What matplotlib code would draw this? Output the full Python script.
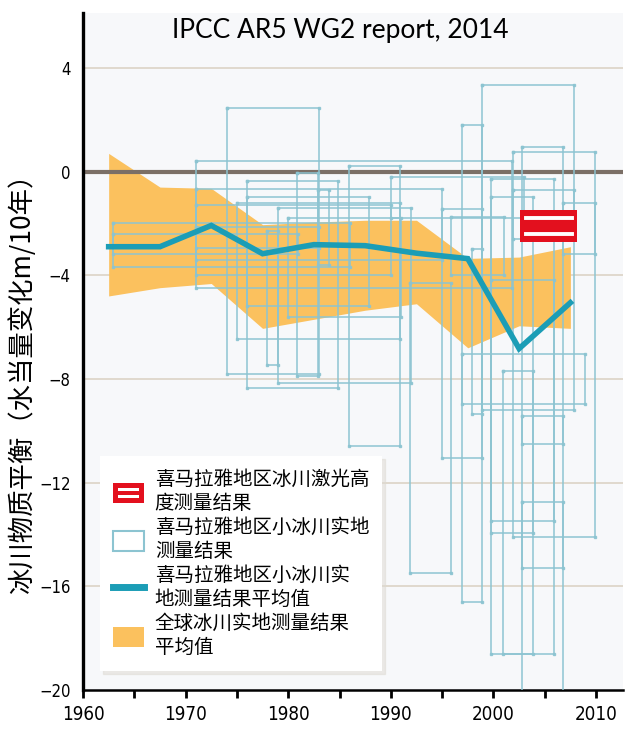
import matplotlib
matplotlib.use("Agg")
import matplotlib.pyplot as plt
from matplotlib.patches import Rectangle, Patch
from matplotlib.lines import Line2D
from matplotlib.legend_handler import HandlerBase

# pentad mid-years for the global mean band and Himalayan mean line
years = [1962.5, 1967.5, 1972.5, 1977.5, 1982.5, 1987.5, 1992.5, 1997.5, 2002.5, 2007.5]
global_upper = [0.7, -0.6, -0.65, -2.05, -1.95, -1.88, -1.88, -3.35, -3.3, -2.9]
global_lower = [-4.8, -4.48, -4.32, -6.05, -5.7, -5.35, -5.1, -6.8, -5.95, -6.05]
himal_mean = [-2.9, -2.9, -2.08, -3.17, -2.82, -2.86, -3.15, -3.36, -6.83, -5.06]

# individual glacier measurements: period start/end, upper/lower value
rect_start = [1962.9, 1962.9, 1971.0, 1971.0, 1971.0, 1971.0, 1974.0, 1975.0, 1976.0, 1977.9,
              1979.0, 1980.9, 1982.9, 1985.9, 1976.0, 1980.0, 1991.9, 1995.0, 1995.9, 1996.9,
              1998.9, 1999.8, 1999.8, 2000.9, 2002.8, 2002.8, 2002.8, 2001.9, 1996.9, 1997.9,
              2006.8, 2001.9, 1990.0, 1999.8]
rect_end = [1986.0, 1981.0, 2001.8, 1995.0, 1990.0, 1983.0, 1983.0, 1990.9, 1984.9, 1979.0,
            1992.0, 1982.9, 1984.0, 1990.9, 1987.9, 1991.0, 1995.9, 1998.9, 2001.0, 1998.9,
            2007.9, 2005.9, 2005.9, 2003.9, 2006.8, 2006.8, 2006.8, 2009.9, 2008.9, 1998.9,
            2009.9, 2007.9, 2003.0, 2003.9]
rect_top = [-2.0, -2.4, 0.42, -0.66, -1.3, -2.15, 2.47, -1.2, -0.35, -2.3,
            -1.4, -0.05, -0.7, 0.23, -1.0, -1.8, -4.3, -1.43, -1.74, 1.78,
            3.32, -0.3, -4.2, -7.7, 0.93, -9.42, -12.74, 0.77, -7.03, -3.0,
            -1.2, -0.7, -0.2, -1.0]
rect_bottom = [-3.7, -3.2, -4.5, -3.4, -4.0, -2.95, -7.8, -6.45, -8.34, -7.45,
               -8.15, -7.9, -3.6, -10.6, -5.2, -5.6, -15.5, -11.05, -4.0, -16.6,
               -9.2, -13.5, -18.6, -18.6, -10.5, -15.3, -21.0, -14.1, -8.96, -9.35,
               -3.17, -2.6, -1.8, -13.94]

# laser altimetry estimate (box) and its two stripes
laser_start, laser_end = 2002.6, 2008.1
laser_top, laser_bottom = -1.5, -2.7
laser_lines = [-1.78, -2.4]

yticks = [-20, -16, -12, -8, -4, 0, 4]
xticks = [1960, 1970, 1980, 1990, 2000, 2010]

labels = ["喜马拉雅地区冰川激光高\n度测量结果",
          "喜马拉雅地区小冰川实地\n测量结果",
          "喜马拉雅地区小冰川实\n地测量结果平均值",
          "全球冰川实地测量结果\n平均值"]

RED = "#e3101e"
BAND = "#fbc15e"
TEAL = "#1b9db6"
RECT = "#8cc4d1"

cjk = ["Noto Sans CJK SC", "DejaVu Sans"]


class LaserHandler(HandlerBase):
    def create_artists(self, legend, orig_handle, xdescent, ydescent,
                       width, height, fontsize, trans):
        x0, y0 = -xdescent, -ydescent
        box = Rectangle((x0, y0), width, height, facecolor=RED,
                        edgecolor="none", transform=trans)
        s1 = Rectangle((x0 + 0.17 * width, y0 + 0.22 * height), 0.66 * width,
                       0.15 * height, facecolor="white", edgecolor="none", transform=trans)
        s2 = Rectangle((x0 + 0.17 * width, y0 + 0.6 * height), 0.66 * width,
                       0.15 * height, facecolor="white", edgecolor="none", transform=trans)
        return [box, s1, s2]


fig = plt.figure(figsize=(6.4, 7.37), dpi=100)
ax = fig.add_axes([0.1297, 0.0638, 0.8433, 0.918])
ax.set_facecolor("#f7f8fa")

for v in [4, -4, -8, -12, -16]:
    ax.axhline(v, color="#dcd3c6", lw=1.2, zorder=0.5)

ax.fill_between(years, global_lower, global_upper, color=BAND, lw=0, zorder=1)
ax.axhline(0, color="#7b6f66", lw=3, zorder=2)

for x0, x1, t, b in zip(rect_start, rect_end, rect_top, rect_bottom):
    ax.plot([x0, x1, x1, x0, x0], [t, t, b, b, t], color=RECT, lw=1.2,
            marker="s", ms=1.8, alpha=0.9, zorder=3)

ax.plot(years, himal_mean, color=TEAL, lw=4, solid_joinstyle="miter", zorder=4)

ax.add_patch(Rectangle((laser_start, laser_bottom), laser_end - laser_start,
                       laser_top - laser_bottom, facecolor=RED, edgecolor="none", zorder=5))
for v in laser_lines:
    ax.plot([laser_start + 0.6, laser_end - 0.45], [v, v], color="white", lw=2.8, zorder=6)

ax.set_xlim(1960, 2012.6)
ax.set_ylim(-20, 6.1)
ax.set_xticks(xticks)
ax.set_xticks(range(1965, 2011, 10), minor=True)
ax.set_yticks(yticks)
ax.set_xticklabels([str(x) for x in xticks], family="DejaVu Sans",
                   stretch="condensed", fontsize=13.5)
ax.set_yticklabels(["\u2212" + str(-v) if v < 0 else str(v) for v in yticks],
                   family="DejaVu Sans", stretch="condensed", fontsize=12)
ax.tick_params(axis="x", which="both", length=6, width=2, direction="out", pad=5)
ax.tick_params(axis="y", length=0, pad=9)

for s in ["top", "right"]:
    ax.spines[s].set_visible(False)
ax.spines["left"].set_linewidth(2.4)
ax.spines["bottom"].set_linewidth(1.8)

ax.text(0.476, 0.975, "IPCC AR5 WG2 report, 2014", transform=ax.transAxes,
        ha="center", va="center", fontsize=19, family=["Lato", "DejaVu Sans"])

fig.text(0.034, 0.49, "冰川物质平衡（水当量变化m/10年）", rotation=90,
         ha="center", va="center", fontsize=19, family=cjk)

handles = [Patch(facecolor=RED),
           Patch(facecolor="white", edgecolor=RECT, lw=1.5),
           Line2D([], [], color=TEAL, lw=5),
           Patch(facecolor=BAND, edgecolor="none")]
leg = ax.legend(handles, labels, loc="lower left", bbox_to_anchor=(0.032, 0.028),
                borderaxespad=0, prop={"family": cjk, "size": 14},
                handlelength=1.6, handleheight=1.2, handletextpad=0.55,
                labelspacing=0.15, borderpad=0.65, fancybox=False,
                framealpha=1, edgecolor="none", facecolor="white",
                shadow={"color": "#dedad2"},
                handler_map={handles[0]: LaserHandler()})
leg.set_zorder(10)

fig.savefig("out.png", dpi=100, facecolor="white")
